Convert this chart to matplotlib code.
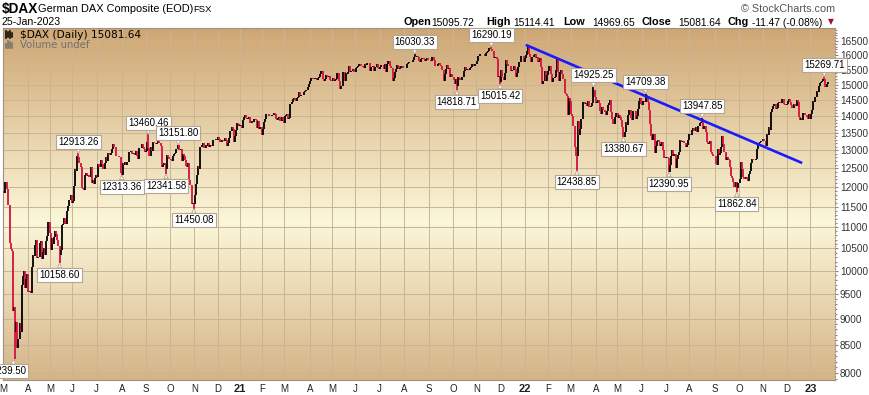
import numpy as np
import matplotlib.pyplot as plt
from matplotlib.colors import LinearSegmentedColormap
from matplotlib.lines import Line2D
from matplotlib.ticker import FixedLocator, NullFormatter

# daily closes, one inner list per month (Mar 2020 .. Jan 2023)
close_2020 = [
    [11857, 12128, 12127, 11944, 11542, 10625, 10475, 10439, 9161, 9232, 8742, 8939, 8442, 8610, 8929, 8742, 9701, 9874, 10000, 9633, 9816, 9936],
    [9544, 9571, 9526, 10075, 10356, 10333, 10565, 10697, 10280, 10302, 10626, 10676, 10250, 10415, 10514, 10337, 10659, 10796, 11108, 10862],
    [10467, 10730, 10606, 10759, 10904, 10825, 10680, 10542, 10337, 10465, 11058, 11075, 11223, 11066, 11074, 11391, 11504, 11657, 11781, 11587],
    [11650, 12021, 12487, 12431, 12848, 12820, 12642, 12530, 11970, 11949, 11911, 12315, 12382, 12281, 12331, 12262, 12523, 12094, 12177, 12089, 12232, 12311],
    [12260, 12608, 12528, 12733, 12616, 12494, 12489, 12633, 12799, 12697, 12930, 12874, 12920, 13046, 13171, 13104, 13103, 12838, 12838, 12835, 12822, 12379, 12313],
    [12647, 12600, 12660, 12591, 12674, 12687, 12946, 12993, 12901, 12901, 12920, 12881, 12977, 12830, 12765, 13067, 13062, 13190, 13096, 13033, 12945],
    [12974, 13243, 13057, 12842, 13100, 12968, 13237, 13209, 13203, 13193, 13218, 13255, 13208, 13116, 12542, 12594, 12642, 12606, 12469, 12871, 12826, 12761],
    [12731, 12689, 12828, 12906, 12928, 13042, 13051, 13138, 13019, 13028, 12704, 12909, 12854, 12736, 12558, 12543, 12646, 12178, 12064, 11561, 11598, 11556],
    [11789, 12089, 12324, 12568, 12480, 13096, 13163, 13217, 13053, 13077, 13139, 13133, 13202, 13087, 13138, 13127, 13292, 13289, 13286, 13336, 13291],
    [13383, 13313, 13252, 13299, 13271, 13278, 13340, 13295, 13114, 13223, 13363, 13565, 13667, 13630, 13247, 13418, 13587, 13790, 13761, 13719],
]
close_2021 = [
    [13726, 13651, 13892, 13968, 14050, 13937, 13925, 13940, 13989, 13788, 13848, 13815, 13922, 13906, 13874, 13643, 13871, 13620, 13665, 13433],
    [13622, 13835, 13933, 14060, 14057, 14060, 14012, 14011, 14041, 14050, 14109, 14064, 13909, 13887, 13950, 13993, 13865, 13976, 13880, 13786],
    [14012, 14039, 14080, 13920, 13950, 14381, 14437, 14540, 14569, 14502, 14461, 14557, 14596, 14775, 14621, 14657, 14662, 14748, 14786, 14817, 14818, 14940, 15008],
    [15107, 15212, 15176, 15203, 15215, 15234, 15144, 15234, 15256, 15368, 15460, 15195, 15130, 15196, 15320, 15296, 15249, 15292, 15155, 15136],
    [15236, 15120, 15170, 15197, 15400, 15399, 15120, 14851, 14965, 15417, 15429, 15114, 15385, 15370, 15438, 15632, 15406, 15450, 15520, 15421, 15421],
    [15568, 15602, 15632, 15693, 15677, 15641, 15581, 15571, 15693, 15673, 15729, 15711, 15728, 15448, 15603, 15636, 15456, 15589, 15607, 15691, 15554, 15531],
    [15603, 15650, 15661, 15511, 15692, 15420, 15688, 15790, 15789, 15629, 15540, 15133, 15216, 15422, 15514, 15669, 15619, 15519, 15570, 15640, 15544, 15544],
    [15568, 15555, 15692, 15744, 15761, 15745, 15771, 15826, 15937, 15977, 15925, 15965, 15921, 15808, 15768, 15852, 15905, 15860, 15793, 15851, 15882, 15835],
    [15824, 15840, 15781, 15932, 15843, 15610, 15623, 15609, 15701, 15722, 15652, 15615, 15490, 15132, 15348, 15506, 15644, 15531, 15573, 15248, 15365, 15261],
    [15156, 15037, 15195, 14973, 15250, 15207, 15147, 15146, 15250, 15463, 15587, 15474, 15515, 15523, 15472, 15543, 15600, 15705, 15631, 15697, 15688],
    [15807, 15954, 15960, 16029, 16054, 16047, 16040, 15984, 16083, 16094, 16148, 16248, 16251, 16221, 16160, 15906, 15937, 15917, 15878, 15257, 15280, 15100],
    [15472, 15263, 15170, 15380, 15813, 15687, 15639, 15623, 15622, 15453, 15477, 15636, 15532, 15240, 15380, 15593, 15756, 15745, 15964, 15963, 15756, 15885],
]
close_2022 = [
    [16020, 16152, 16271, 16052, 15947, 15768, 15941, 16010, 16031, 15883, 15933, 15772, 15810, 15912, 15603, 15011, 15124, 15459, 15123, 15318, 15471],
    [15619, 15613, 15368, 15099, 15206, 15242, 15482, 15850, 15425, 15113, 15412, 15473, 15370, 15197, 14731, 14693, 14632, 14052, 14567, 14461],
    [14059, 14000, 13698, 13094, 12835, 12832, 13847, 13442, 13628, 13929, 13917, 14440, 14388, 14413, 14326, 14473, 14283, 14274, 14306, 14418, 14820, 14606, 14415],
    [14446, 14518, 14424, 14152, 14078, 14284, 14193, 14124, 14026, 14164, 14362, 14424, 14502, 14142, 13925, 13756, 13970, 14098, 14098],
    [13939, 14040, 13970, 13903, 13674, 13381, 13534, 13828, 13739, 14027, 14185, 14185, 13964, 13882, 14172, 14176, 13920, 14008, 14231, 14462, 14575, 14388],
    [14340, 14482, 14460, 14654, 14556, 14445, 14198, 13762, 13427, 13304, 13483, 12912, 13126, 13265, 13292, 13247, 13119, 13186, 13231, 13003, 12784, 12813],
    [12813, 12773, 12401, 12594, 12843, 13015, 12832, 12905, 12519, 12756, 12864, 12959, 13308, 13281, 13247, 13254, 13211, 13097, 13166, 13282, 13484],
    [13480, 13449, 13587, 13662, 13574, 13688, 13535, 13701, 13694, 13795, 13816, 13910, 13626, 13696, 13544, 13230, 13194, 13220, 13271, 12961, 12893, 12835, 12835],
    [12631, 12604, 13050, 12871, 12916, 13088, 13402, 13188, 12956, 12741, 12807, 12767, 12741, 12532, 12284, 12227, 12139, 12003, 12139, 11971, 12114, 12115],
    [12209, 12670, 12470, 12273, 12220, 12272, 12219, 12172, 12356, 12438, 12649, 12765, 12742, 12741, 12767, 13052, 13194, 13211, 13244, 13253, 13253],
    [13337, 13256, 13130, 13460, 13428, 13688, 13604, 14146, 14225, 14313, 14378, 14234, 14266, 14416, 14431, 14422, 14427, 14539, 14541, 14383, 14355, 14397],
    [14490, 14529, 14447, 14343, 14261, 14264, 14370, 14306, 14497, 14460, 13987, 13893, 13942, 13884, 14098, 14097, 14053, 13995, 13911, 14071, 13924],
]
close_2023 = [
    [14069, 14181, 14490, 14436, 14610, 14792, 14774, 14948, 15058, 15086, 15134, 15187, 15181, 14920, 15033, 15103, 15093, 15081],
]
first_open = 11890

month_labels = ["M", "A", "M", "J", "J", "A", "S", "O", "N", "D",
                "21", "F", "M", "A", "M", "J", "J", "A", "S", "O", "N", "D",
                "22", "F", "M", "A", "M", "J", "J", "A", "S", "O", "N", "D",
                "23"]

# labelled highs / lows: (month number from Mar 2020, trading day in month, value, side)
peak_month = [0, 2, 3, 4, 6, 6, 7, 7, 17, 19, 20, 20, 24, 24, 26, 27, 28, 29, 30, 34]
peak_day = [10, 8, 5, 22, 2, 18, 7, 21, 9, 3, 13, 21, 5, 20, 5, 3, 2, 11, 19, 12]
peak_value = [8239.50, 10158.60, 12913.26, 12313.36, 13460.46, 12341.58, 13151.80, 11450.08,
              16030.33, 14818.71, 16290.19, 15015.42, 12438.85, 14925.25, 13380.67, 14709.38,
              12390.95, 13947.85, 11862.84, 15269.71]
peak_side = ["lo", "lo", "hi", "lo", "hi", "lo", "hi", "lo", "hi", "lo", "hi", "lo",
             "lo", "hi", "lo", "hi", "lo", "hi", "lo", "hi"]

# hand-drawn trend line: (month, day, value)
trend_month = [22, 33]
trend_day = [0, 13]
trend_value = [16360, 12646]

months = close_2020 + close_2021 + close_2022 + close_2023
month_start = np.cumsum([0] + [len(m) for m in months])[:-1]
close = np.array([v for m in months for v in m], dtype=float)
n = len(close)
prev = np.concatenate([[first_open], close[:-1]])
lo = np.minimum(prev, close)
hi = np.maximum(prev, close)
peak_idx = [month_start[m] + d for m, d in zip(peak_month, peak_day)]
for i, v, s in zip(peak_idx, peak_value, peak_side):
    if s == "lo":
        lo[i] = min(lo[i], v)
    else:
        hi[i] = max(hi[i], v)
x = np.arange(n)
cols = np.where(close < prev, "#d6103c", "#000000")

W, H = 869, 395
fig = plt.figure(figsize=(W / 100, H / 100), dpi=100)
fig.patch.set_facecolor("white")
ax = fig.add_axes([3 / W, 15 / H, 832 / W, 352 / H])

# background gradient
cmap = LinearSegmentedColormap.from_list("bg", [(0, "#d5b487"), (0.45, "#fbf7d9"), (1, "#cfa672")])
grad = np.linspace(1, 0, 256).reshape(-1, 1)
ax.imshow(grad, extent=[0, 1, 0, 1], transform=ax.transAxes, aspect="auto", cmap=cmap, zorder=0)

ax.set_yscale("log")
ax.set_ylim(7879, 16974)
ax.set_xlim(-0.9, n + 3.6)

yt = list(range(8000, 17000, 500))
ax.yaxis.set_major_locator(FixedLocator(yt))
ax.yaxis.set_minor_locator(FixedLocator(range(7900, 17000, 100)))
ax.yaxis.set_minor_formatter(NullFormatter())
ax.set_yticklabels([str(v) for v in yt])
ax.yaxis.tick_right()
ax.tick_params(axis="y", which="major", length=2.5, width=0.8, color="#9a8080", labelsize=7.2,
               labelcolor="#333333", pad=1)
ax.tick_params(axis="y", which="minor", length=1.5, width=0.8, color="#9a8080")
for lab in ax.get_yticklabels():
    lab.set_family("Liberation Sans")

xt = month_start - 0.5
ax.set_xticks(xt)
ax.set_xticklabels(month_labels)
ax.tick_params(axis="x", length=0, pad=3, labelsize=7, labelcolor="#222222")
for lab in ax.get_xticklabels():
    lab.set_family("Liberation Sans")
    if lab.get_text().isdigit():
        lab.set_fontweight("bold")
        lab.set_fontsize(8)

ax.set_axisbelow(True)
ax.grid(True, which="major", color="#c9b596", linewidth=0.7)
for s in ax.spines.values():
    s.set_color("#a09080")
    s.set_linewidth(0.8)
ax.spines["right"].set_linestyle((0, (1, 1.5)))

ax.vlines(x, lo, hi, colors=cols, linewidth=1.3, zorder=3)

tx = [month_start[m] + d for m, d in zip(trend_month, trend_day)]
ax.plot(tx, trend_value, color="#1a1aff", linewidth=1.9, zorder=4, solid_capstyle="butt")

for k, (i, v, s) in enumerate(zip(peak_idx, peak_value, peak_side)):
    off = 8.5 if s == "hi" else -8.5
    dx = -4.5 if k == 0 else 0  # first box sits against the left edge, as in the original
    ax.annotate(f"{v:.2f}", xy=(i, v), xytext=(dx, off), textcoords="offset points",
                ha="center", va="center", fontsize=7, family="Liberation Sans", zorder=6,
                bbox=dict(boxstyle="square,pad=0.2", fc="white", ec="#b5a595", lw=0.8),
                arrowprops=dict(arrowstyle="wedge,tail_width=0.45", fc="white", ec="#b5a595",
                                lw=0.6, shrinkA=0, shrinkB=0))

ax.text(17 / 832, 1 - 7 / 352, "$DAX (Daily) 15081.64", transform=ax.transAxes, fontsize=7.6,
        family="DejaVu Sans", va="center", ha="left", zorder=7)
ax.text(17 / 832, 1 - 17 / 352, "Volume undef", transform=ax.transAxes, fontsize=7.3,
        family="DejaVu Sans", va="center", ha="left", color="#707070", zorder=7)

# small legend icons in front of the two legend texts
for dx, h1, h2 in [(6, 31, 38), (8, 32, 37), (10, 31, 38), (12, 33, 37)]:
    fig.add_artist(Line2D([dx / W, dx / W], [1 - h1 / H, 1 - h2 / H], color="black", lw=1.1))
for dx, h1 in [(6, 44), (8, 41), (10, 42), (12, 43)]:
    fig.add_artist(Line2D([dx / W, dx / W], [1 - h1 / H, 1 - 48 / H], color="#707070", lw=1.1))


def ftext(px, py, s, **kw):
    fig.text(px / W, 1 - py / H, s, va="center", family="Liberation Sans", **kw)


ftext(2, 9, "$DAX", fontsize=9.8, fontweight="bold")
ftext(38, 9.5, "German DAX Composite (EOD)", fontsize=7.9)
ftext(193, 9.5, "FSX", fontsize=6.8)
ftext(1, 22, "25-Jan-2023", fontsize=7.6)
ftext(835, 8.5, "\u00a9 StockCharts.com", fontsize=7.8, color="#555555", ha="right")

head_x = [404, 431, 486, 513, 563, 592, 642, 678, 728, 752]
head_txt = ["Open", "15095.72", "High", "15114.41", "Low", "14969.65", "Close", "15081.64",
            "Chg", "-11.47 (-0.08%)"]
for k, (hx, ht) in enumerate(zip(head_x, head_txt)):
    if k % 2 == 0:
        ftext(hx, 22, ht, fontsize=7.8, fontweight="bold")
    else:
        ftext(hx, 22.5, ht, fontsize=7.4)
fig.text(831 / W, 1 - 22 / H, "\u25bc", fontsize=5.5, color="#a0102a", ha="center", va="center")

fig.savefig("out.png", dpi=100)
